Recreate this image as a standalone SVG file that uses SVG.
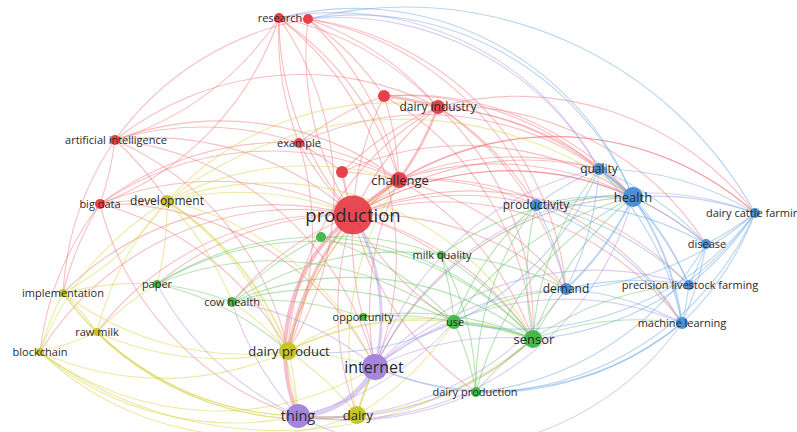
<svg xmlns="http://www.w3.org/2000/svg" width="797" height="432" viewBox="0 0 797 432">
<style>
#edges path{fill:none;stroke-width:1.1}
.er path{stroke:#ee5e66;stroke-opacity:.4}
.ey path{stroke:#d2d03a;stroke-opacity:.45}
.ep path{stroke:#b291e2;stroke-opacity:.45}
.eg path{stroke:#5fc25c;stroke-opacity:.45}
.eb path{stroke:#6fa8e2;stroke-opacity:.48}
.r{fill:#e6414b}.y{fill:#c8c52a}.p{fill:#a685dd}.g{fill:#48b84a}.b{fill:#4a8fd7}
text{font-family:"Open Sans","Liberation Sans",sans-serif;fill:#2a2a2a;text-anchor:middle}
.s{font-size:11px}.m{font-size:12px}.l{font-size:13px}
</style>
<rect width="797" height="432" fill="#ffffff"/>
<g id="edges">
<g class="er">
<path d="M353 215A300 300 0 0 1 279 18"/><path d="M353 215A300 300 0 0 1 308 19"/><path d="M353 215A300 300 0 0 1 384 96"/><path d="M353 215A300 300 0 0 1 438 107"/><path d="M353 215A300 300 0 0 1 299 143"/><path d="M353 215A300 300 0 0 1 342 172" style="stroke-width:2"/>
<path d="M115 140A300 300 0 0 1 353 215"/><path d="M100 204A300 300 0 0 1 353 215"/><path d="M63 293A300 300 0 0 1 353 215"/><path d="M40 352A300 300 0 0 1 353 215"/><path d="M97 332A300 300 0 0 1 353 215"/><path d="M157 284A300 300 0 0 1 353 215"/><path d="M232 302A300 300 0 0 1 353 215"/><path d="M357 415A300 300 0 0 1 353 215"/><path d="M363 317A300 300 0 0 1 353 215"/>
<path d="M353 215A300 300 0 0 1 599 169"/><path d="M353 215A300 300 0 0 1 633 197"/><path d="M353 215A300 300 0 0 1 536 205"/><path d="M353 215A300 300 0 0 1 755 213"/><path d="M353 215A300 300 0 0 1 706 244"/><path d="M353 215A300 300 0 0 1 566 289"/><path d="M353 215A300 300 0 0 1 689 285"/><path d="M353 215A300 300 0 0 1 682 323"/><path d="M353 215A300 300 0 0 1 441 255"/><path d="M454 322A300 300 0 0 1 353 215"/><path d="M353 215A300 300 0 0 1 533 339"/><path d="M476 392A300 300 0 0 1 353 215"/>
<path d="M279 18A300 300 0 0 1 308 19"/><path d="M299 143A300 300 0 0 1 279 18"/><path d="M279 18A300 300 0 0 1 399 180"/><path d="M279 18A300 300 0 0 1 115 140"/><path d="M279 18A300 300 0 0 1 100 204"/><path d="M279 18A300 300 0 0 1 438 107"/><path d="M279 18A300 300 0 0 1 288 351"/><path d="M279 18A300 300 0 0 1 375 367"/>
<path d="M308 19A300 300 0 0 1 384 96"/><path d="M308 19A300 300 0 0 1 438 107"/><path d="M308 19A300 300 0 0 1 399 180"/><path d="M115 140A300 300 0 0 1 308 19"/><path d="M308 19A300 300 0 0 1 536 205"/><path d="M308 19A300 300 0 0 1 566 289"/>
<path d="M384 96A300 300 0 0 1 438 107" style="stroke-width:3"/><path d="M384 96A300 300 0 0 1 399 180"/><path d="M299 143A300 300 0 0 1 384 96"/><path d="M384 96A300 300 0 0 1 633 197"/><path d="M384 96A300 300 0 0 1 599 169"/><path d="M384 96A300 300 0 0 1 533 339"/>
<path d="M438 107A300 300 0 0 1 399 180" style="stroke-width:2.5"/><path d="M438 107A300 300 0 0 1 633 197"/><path d="M438 107A300 300 0 0 1 599 169"/><path d="M438 107A300 300 0 0 1 536 205"/><path d="M438 107A300 300 0 0 1 566 289"/><path d="M438 107A300 300 0 0 1 533 339"/><path d="M288 351A300 300 0 0 1 438 107"/><path d="M438 107A300 300 0 0 1 755 213"/><path d="M438 107A300 300 0 0 1 706 244"/>
<path d="M299 143A300 300 0 0 1 399 180"/><path d="M115 140A300 300 0 0 1 299 143"/><path d="M299 143A300 300 0 0 1 288 351"/><path d="M299 143A300 300 0 0 1 633 197"/>
<path d="M399 180A300 300 0 0 1 633 197"/><path d="M399 180A300 300 0 0 1 599 169"/><path d="M399 180A300 300 0 0 1 536 205"/><path d="M399 180A300 300 0 0 1 533 339"/><path d="M399 180A300 300 0 0 1 566 289"/><path d="M375 367A300 300 0 0 1 399 180"/><path d="M288 351A300 300 0 0 1 399 180"/><path d="M399 180A300 300 0 0 1 682 323"/><path d="M399 180A300 300 0 0 1 755 213"/>
<path d="M115 140A300 300 0 0 1 100 204"/><path d="M115 140A300 300 0 0 1 167 201"/><path d="M63 293A300 300 0 0 1 115 140"/><path d="M115 140A300 300 0 0 1 399 180"/><path d="M115 140A300 300 0 0 1 438 107"/><path d="M115 140A300 300 0 0 1 288 351"/><path d="M115 140A300 300 0 0 1 375 367"/>
<path d="M100 204A300 300 0 0 1 167 201"/><path d="M40 352A300 300 0 0 1 100 204"/><path d="M63 293A300 300 0 0 1 100 204"/><path d="M100 204A300 300 0 0 1 375 367"/><path d="M298 416A300 300 0 0 1 100 204"/><path d="M100 204A300 300 0 0 1 399 180"/><path d="M100 204A300 300 0 0 1 299 143"/><path d="M100 204A300 300 0 0 1 288 351"/>
<path d="M342 172A300 300 0 0 1 399 180"/><path d="M342 172A300 300 0 0 1 438 107"/><path d="M299 143A300 300 0 0 1 342 172"/><path d="M342 172A300 300 0 0 1 633 197"/>
<path d="M298 416A170 170 0 0 1 353 215" style="stroke:#f08a9c;stroke-width:4;stroke-opacity:.55"/>
<path d="M288 351A300 300 0 0 1 353 215" style="stroke-width:3"/>
<path d="M353 215A300 300 0 0 1 399 180" style="stroke-width:3.5"/>
</g>
<g class="ey">
<path d="M167 201A300 300 0 0 1 157 284"/><path d="M167 201A300 300 0 0 1 288 351" style="stroke-width:2"/><path d="M167 201A300 300 0 0 1 375 367"/><path d="M167 201A300 300 0 0 1 353 215"/><path d="M40 352A300 300 0 0 1 167 201"/><path d="M167 201A300 300 0 0 1 232 302"/><path d="M97 332A300 300 0 0 1 167 201"/><path d="M167 201A300 300 0 0 1 298 416"/><path d="M167 201A300 300 0 0 1 533 339"/><path d="M167 201A380 380 0 0 1 633 197"/><path d="M167 201A300 300 0 0 1 399 180"/><path d="M167 201A300 300 0 0 1 438 107"/><path d="M167 201A300 300 0 0 1 63 293"/>
<path d="M63 293A300 300 0 0 1 97 332"/><path d="M40 352A300 300 0 0 1 63 293"/><path d="M288 351A300 300 0 0 1 63 293"/><path d="M357 415A300 300 0 0 1 63 293"/><path d="M298 416A300 300 0 0 1 63 293"/><path d="M63 293A300 300 0 0 1 157 284"/>
<path d="M97 332A300 300 0 0 1 40 352"/><path d="M288 351A300 300 0 0 1 97 332"/><path d="M357 415A300 300 0 0 1 97 332"/><path d="M298 416A300 300 0 0 1 97 332"/><path d="M97 332A300 300 0 0 1 157 284"/>
<path d="M288 351A300 300 0 0 1 40 352"/><path d="M357 415A300 300 0 0 1 40 352"/><path d="M298 416A300 300 0 0 1 40 352"/><path d="M375 367A300 300 0 0 1 40 352"/><path d="M533 339A400 400 0 0 1 40 352"/>
<path d="M288 351A300 300 0 0 1 298 416"/><path d="M288 351A300 300 0 0 1 375 367"/><path d="M288 351A300 300 0 0 1 357 415"/><path d="M232 302A300 300 0 0 1 288 351"/><path d="M288 351A300 300 0 0 1 363 317"/><path d="M288 351A300 300 0 0 1 454 322"/><path d="M288 351A300 300 0 0 1 533 339"/><path d="M288 351A300 300 0 0 1 399 180"/>
<path d="M357 415A300 300 0 0 1 375 367" style="stroke-width:2"/><path d="M357 415A300 300 0 0 1 298 416"/><path d="M533 339A300 300 0 0 1 357 415"/><path d="M454 322A300 300 0 0 1 357 415"/><path d="M357 415A300 300 0 0 1 399 180"/><path d="M357 415A300 300 0 0 1 633 197"/>
</g>
<g class="ep">
<path d="M375 367A90 90 0 0 1 298 416" style="stroke-width:5"/>
<path d="M353 215A200 200 0 0 1 375 367" style="stroke-width:3"/>
<path d="M375 367A300 300 0 0 1 533 339"/><path d="M375 367A300 300 0 0 1 454 322"/><path d="M375 367A300 300 0 0 1 566 289"/><path d="M375 367A300 300 0 0 1 633 197"/><path d="M375 367A300 300 0 0 1 682 323"/><path d="M375 367A300 300 0 0 1 755 213"/><path d="M375 367A300 300 0 0 1 599 169"/><path d="M375 367A300 300 0 0 1 689 285"/><path d="M363 317A300 300 0 0 1 375 367"/><path d="M476 392A300 300 0 0 1 375 367"/><path d="M232 302A300 300 0 0 1 375 367"/>
<path d="M533 339A300 300 0 0 1 298 416"/><path d="M454 322A300 300 0 0 1 298 416"/><path d="M682 323A300 300 0 0 1 298 416"/><path d="M566 289A300 300 0 0 1 298 416"/><path d="M633 197A300 300 0 0 1 298 416"/><path d="M476 392A300 300 0 0 1 298 416"/><path d="M298 416A300 300 0 0 1 232 302"/><path d="M298 416A300 300 0 0 1 157 284"/>
<path d="M279 18A300 300 0 0 1 599 169"/><path d="M308 19A300 300 0 0 1 599 169"/>
</g>
<g class="eg">
<path d="M321 237A300 300 0 0 1 441 255"/><path d="M321 237A300 300 0 0 1 454 322"/><path d="M321 237A300 300 0 0 1 533 339"/><path d="M232 302A300 300 0 0 1 321 237"/><path d="M157 284A300 300 0 0 1 321 237"/>
<path d="M157 284A300 300 0 0 1 232 302"/><path d="M157 284A300 300 0 0 1 454 322"/><path d="M157 284A300 300 0 0 1 533 339"/><path d="M157 284A300 300 0 0 1 288 351"/>
<path d="M232 302A300 300 0 0 1 454 322"/><path d="M232 302A300 300 0 0 1 533 339"/><path d="M232 302A300 300 0 0 1 363 317"/><path d="M232 302A300 300 0 0 1 441 255"/>
<path d="M363 317A300 300 0 0 1 454 322"/><path d="M363 317A300 300 0 0 1 533 339"/>
<path d="M441 255A300 300 0 0 1 454 322"/><path d="M441 255A300 300 0 0 1 533 339"/><path d="M441 255A300 300 0 0 1 476 392"/><path d="M441 255A300 300 0 0 1 566 289"/><path d="M441 255A300 300 0 0 1 633 197"/>
<path d="M454 322A300 300 0 0 1 533 339" style="stroke-width:2.5"/><path d="M454 322A300 300 0 0 1 476 392"/><path d="M454 322A300 300 0 0 1 566 289"/><path d="M454 322A300 300 0 0 1 633 197"/><path d="M454 322A300 300 0 0 1 536 205"/>
<path d="M533 339A300 300 0 0 1 566 289"/><path d="M533 339A300 300 0 0 1 633 197"/><path d="M533 339A300 300 0 0 1 599 169"/><path d="M533 339A300 300 0 0 1 536 205"/><path d="M476 392A300 300 0 0 1 533 339"/><path d="M533 339A300 300 0 0 1 682 323"/><path d="M533 339A300 300 0 0 1 689 285"/>
<path d="M476 392A300 300 0 0 1 633 197"/><path d="M476 392A300 300 0 0 1 536 205"/>
</g>
<g class="eb">
<path d="M308 19A400 400 0 0 1 755 213"/><path d="M279 18A300 300 0 0 1 633 197"/><path d="M308 19A300 300 0 0 1 633 197"/>
<path d="M599 169A300 300 0 0 1 633 197" style="stroke-width:2.5"/><path d="M536 205A300 300 0 0 1 599 169"/><path d="M599 169A300 300 0 0 1 755 213"/><path d="M599 169A300 300 0 0 1 706 244"/><path d="M599 169A300 300 0 0 1 566 289"/><path d="M599 169A300 300 0 0 1 689 285"/><path d="M599 169A300 300 0 0 1 682 323"/>
<path d="M536 205A300 300 0 0 1 633 197"/><path d="M633 197A300 300 0 0 1 755 213"/><path d="M633 197A300 300 0 0 1 706 244"/><path d="M633 197A300 300 0 0 1 566 289" style="stroke-width:2"/><path d="M633 197A300 300 0 0 1 689 285"/><path d="M633 197A300 300 0 0 1 682 323" style="stroke-width:2"/>
<path d="M536 205A300 300 0 0 1 566 289"/><path d="M536 205A300 300 0 0 1 706 244"/><path d="M536 205A300 300 0 0 1 689 285"/><path d="M536 205A300 300 0 0 1 682 323"/>
<path d="M755 213A300 300 0 0 1 706 244"/><path d="M755 213A300 300 0 0 1 689 285"/><path d="M755 213A300 300 0 0 1 682 323"/><path d="M706 244A300 300 0 0 1 689 285"/><path d="M706 244A300 300 0 0 1 682 323"/><path d="M566 289A300 300 0 0 1 689 285"/><path d="M566 289A300 300 0 0 1 682 323"/><path d="M689 285A300 300 0 0 1 682 323"/>
<path d="M682 323A300 300 0 0 1 476 392"/><path d="M682 323A300 300 0 0 1 375 367"/><path d="M755 213A300 300 0 0 1 533 339"/><path d="M755 213A300 300 0 0 1 566 289"/><path d="M755 213A300 300 0 0 1 454 322"/><path d="M599 169A300 300 0 0 1 288 351"/><path d="M755 213A300 300 0 0 1 476 392"/><path d="M706 244A300 300 0 0 1 476 392"/>
</g>
</g>
<g id="n-research"><circle class="r" cx="279" cy="18" r="5"/><text class="s" x="280" y="22">research</text></g>
<g id="n-red-a"><circle class="r" cx="308" cy="19" r="5"/></g>
<g id="n-red-b"><circle class="r" cx="384" cy="96" r="6"/></g>
<g id="n-dairy-industry"><circle class="r" cx="438" cy="107" r="7"/><text class="m" x="438" y="111">dairy industry</text></g>
<g id="n-example"><circle class="r" cx="299" cy="143" r="5"/><text class="s" x="299" y="147">example</text></g>
<g id="n-red-c"><circle class="r" cx="342" cy="172" r="6"/></g>
<g id="n-challenge"><circle class="r" cx="399" cy="180" r="8"/><text class="l" x="400" y="184.5">challenge</text></g>
<g id="n-artificial-intelligence"><circle class="r" cx="115" cy="140" r="5"/><text class="s" x="116" y="144">artificial intelligence</text></g>
<g id="n-big-data"><circle class="r" cx="100" cy="204" r="5"/><text class="s" x="100" y="208">big data</text></g>
<g id="n-production"><circle class="r" cx="353" cy="215" r="19.5" opacity=".95"/><text x="353" y="221.5" style="font-size:18.5px">production</text></g>
<g id="n-development"><circle class="y" cx="167" cy="201" r="6"/><text class="m" x="167" y="205">development</text></g>
<g id="n-implementation"><circle class="y" cx="63" cy="293" r="4"/><text class="s" x="63" y="297">implementation</text></g>
<g id="n-raw-milk"><circle class="y" cx="97" cy="332" r="4"/><text class="s" x="97" y="336">raw milk</text></g>
<g id="n-blockchain"><circle class="y" cx="40" cy="352" r="4"/><text class="s" x="40" y="356">blockchain</text></g>
<g id="n-dairy-product"><circle class="y" cx="288" cy="351" r="9"/><text class="l" x="289" y="355.5">dairy product</text></g>
<g id="n-dairy"><circle class="y" cx="357" cy="415" r="9"/><text class="l" x="358" y="419.5">dairy</text></g>
<g id="n-internet"><circle class="p" cx="375" cy="367" r="13"/><text x="374" y="372.5" style="font-size:16px">internet</text></g>
<g id="n-thing"><circle class="p" cx="298" cy="416" r="12"/><text x="298" y="421" style="font-size:14.5px">thing</text></g>
<g id="n-green-a"><circle class="g" cx="321" cy="237" r="5"/></g>
<g id="n-paper"><circle class="g" cx="157" cy="284" r="4"/><text class="s" x="157" y="288">paper</text></g>
<g id="n-cow-health"><circle class="g" cx="232" cy="302" r="5"/><text class="s" x="232" y="306">cow health</text></g>
<g id="n-opportunity"><circle class="g" cx="363" cy="317" r="4"/><text class="s" x="363" y="321">opportunity</text></g>
<g id="n-milk-quality"><circle class="g" cx="441" cy="255" r="4"/><text class="s" x="442" y="259">milk quality</text></g>
<g id="n-use"><circle class="g" cx="454" cy="322" r="7"/><text class="s" x="455" y="326">use</text></g>
<g id="n-sensor"><circle class="g" cx="533" cy="339" r="9"/><text class="l" x="534" y="343.5">sensor</text></g>
<g id="n-dairy-production"><circle class="g" cx="476" cy="392" r="5"/><text class="s" x="475" y="396">dairy production</text></g>
<g id="n-quality"><circle class="b" cx="599" cy="169" r="6"/><text class="m" x="599" y="173">quality</text></g>
<g id="n-health"><circle class="b" cx="633" cy="197" r="10"/><text class="l" x="633" y="201.5">health</text></g>
<g id="n-productivity"><circle class="b" cx="536" cy="205" r="6"/><text class="m" x="536" y="209">productivity</text></g>
<g id="n-dairy-cattle-farming"><circle class="b" cx="755" cy="213" r="5"/><text class="s" x="706" y="217" style="text-anchor:start">dairy cattle farming</text></g>
<g id="n-disease"><circle class="b" cx="706" cy="244" r="5"/><text class="s" x="707" y="248">disease</text></g>
<g id="n-demand"><circle class="b" cx="566" cy="289" r="6"/><text class="m" x="566" y="293">demand</text></g>
<g id="n-precision-livestock-farming"><circle class="b" cx="689" cy="285" r="5"/><text class="s" x="690" y="289">precision livestock farming</text></g>
<g id="n-machine-learning"><circle class="b" cx="682" cy="323" r="6"/><text class="s" x="682" y="327">machine learning</text></g>
</svg>
